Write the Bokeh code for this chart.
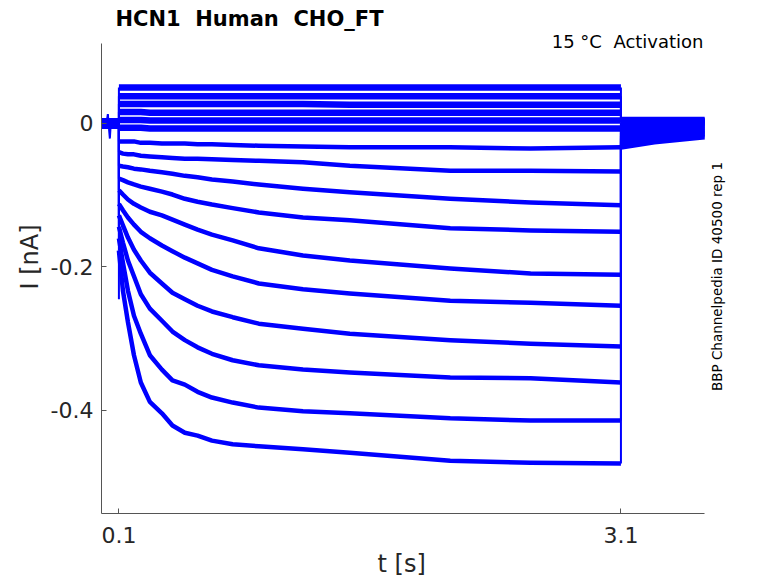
import math
from bokeh.plotting import figure
from bokeh.models import FixedTicker, Label, Title
from bokeh.embed import file_html
from bokeh.resources import INLINE

# ---- data (time in s, current in nA) ----
hold_t = [0.0, 0.1]
step_t = [0.10, 0.124, 0.154, 0.19, 0.231, 0.285, 0.357, 0.42, 0.494, 0.57, 0.656, 0.78, 0.936, 1.2, 1.48, 2.08, 2.56, 3.1]
tail_t = [3.1, 3.3, 3.6]

hold_i = [0.0, 0.0]

T1 = [0.050, 0.050, 0.050, 0.050, 0.050, 0.050, 0.050, 0.050, 0.050, 0.050, 0.050, 0.050, 0.050, 0.050, 0.050, 0.050, 0.050, 0.050]
T2 = [0.038, 0.038, 0.038, 0.038, 0.038, 0.038, 0.038, 0.038, 0.038, 0.038, 0.038, 0.038, 0.038, 0.038, 0.038, 0.038, 0.038, 0.038]
T3 = [0.027, 0.027, 0.027, 0.027, 0.027, 0.027, 0.027, 0.027, 0.027, 0.027, 0.027, 0.027, 0.027, 0.027, 0.026, 0.026, 0.026, 0.026]
T4 = [0.016, 0.016, 0.016, 0.016, 0.016, 0.015, 0.015, 0.015, 0.015, 0.015, 0.015, 0.015, 0.015, 0.015, 0.015, 0.015, 0.015, 0.015]
T5 = [0.005, 0.005, 0.005, 0.005, 0.005, 0.004, 0.004, 0.004, 0.004, 0.004, 0.004, 0.004, 0.004, 0.004, 0.004, 0.004, 0.004, 0.004]
T6 = [-0.006, -0.006, -0.006, -0.006, -0.006, -0.007, -0.007, -0.007, -0.007, -0.007, -0.007, -0.007, -0.007, -0.007, -0.007, -0.007, -0.007, -0.007]
T7 = [-0.025, -0.025, -0.025, -0.025, -0.027, -0.027, -0.028, -0.028, -0.028, -0.029, -0.029, -0.030, -0.031, -0.032, -0.033, -0.033, -0.035, -0.033]
T8 = [-0.040, -0.042, -0.043, -0.043, -0.045, -0.046, -0.047, -0.048, -0.049, -0.049, -0.050, -0.051, -0.052, -0.054, -0.059, -0.066, -0.066, -0.067]
T9 = [-0.059, -0.060, -0.061, -0.063, -0.064, -0.066, -0.068, -0.070, -0.073, -0.075, -0.078, -0.081, -0.085, -0.091, -0.096, -0.105, -0.110, -0.114]
T10 = [-0.077, -0.079, -0.082, -0.085, -0.088, -0.091, -0.095, -0.099, -0.105, -0.109, -0.113, -0.118, -0.124, -0.131, -0.135, -0.146, -0.149, -0.151]
T11 = [-0.093, -0.099, -0.106, -0.112, -0.117, -0.123, -0.128, -0.134, -0.141, -0.148, -0.155, -0.163, -0.174, -0.184, -0.191, -0.202, -0.209, -0.211]
T12 = [-0.112, -0.121, -0.131, -0.141, -0.151, -0.160, -0.170, -0.178, -0.187, -0.195, -0.204, -0.213, -0.223, -0.231, -0.237, -0.247, -0.250, -0.254]
T13 = [-0.128, -0.142, -0.159, -0.176, -0.191, -0.208, -0.223, -0.236, -0.245, -0.254, -0.262, -0.270, -0.279, -0.286, -0.293, -0.302, -0.307, -0.311]
T14 = [-0.144, -0.166, -0.191, -0.213, -0.238, -0.258, -0.275, -0.290, -0.302, -0.312, -0.321, -0.330, -0.337, -0.343, -0.347, -0.354, -0.355, -0.361]
T15 = [-0.160, -0.194, -0.233, -0.268, -0.293, -0.323, -0.343, -0.358, -0.364, -0.374, -0.382, -0.389, -0.396, -0.401, -0.404, -0.411, -0.414, -0.414]
T16 = [-0.177, -0.233, -0.277, -0.323, -0.361, -0.388, -0.404, -0.421, -0.431, -0.435, -0.442, -0.447, -0.450, -0.454, -0.459, -0.470, -0.473, -0.474]

tail_T = [
    [0.006, 0.006, 0.006], [0.005, 0.005, 0.005], [0.004, 0.004, 0.004], [0.003, 0.003, 0.003],
    [0.002, 0.002, 0.002], [0.001, 0.001, 0.001], [-0.001, -0.001, 0.000], [-0.003, -0.003, -0.002],
    [-0.006, -0.005, -0.004], [-0.009, -0.008, -0.006], [-0.013, -0.011, -0.008], [-0.017, -0.014, -0.010],
    [-0.021, -0.017, -0.012], [-0.025, -0.020, -0.014], [-0.029, -0.023, -0.016], [-0.033, -0.026, -0.019],
]

onset_peak_i = -0.245   # capacitive transient at the onset of the largest step

spike_t = [0.022, 0.028, 0.034, 0.040, 0.046, 0.052, 0.058]
spike_i = [0.000, 0.004, 0.013, -0.005, -0.021, 0.002, 0.000]

steps = [T1, T2, T3, T4, T5, T6, T7, T8, T9, T10, T11, T12, T13, T14, T15, T16]

x_ticks = [0.1, 3.1]
y_ticks = [-0.4, -0.2, 0.0]
x_tick_labels = {0.1: "0.1", 3.1: "3.1"}
y_tick_labels = {-0.4: "-0.4", -0.2: "-0.2", 0.0: "0"}

title_text = "HCN1\u00a0 Human\u00a0 CHO_FT"
cond_text = "15 °C\u00a0 Activation"
side_text = "BBP Channelpedia ID 40500 rep 1"
x_label = "t [s]"
y_label = "I [nA]"

# ---- figure ----
BLUE = "#0000ff"
AX = "#555555"
TXT = "#262626"
FONT = "DejaVu Sans"

x_lim = (-0.004, 3.6)
y_lim = (-0.5436, 0.1115)

p = figure(frame_width=659, frame_height=513, x_range=(-0.004, 3.934), y_range=(-0.5436, 0.1714),
           output_backend="svg", toolbar_location=None, title=None,
           min_border_left=101, min_border_right=0, min_border_top=0, min_border_bottom=62)
p.outline_line_color = None
p.xgrid.visible = False
p.ygrid.visible = False
p.background_fill_color = "white"
p.border_fill_color = "white"

# holding segments and artefact
p.multi_line([hold_t for _ in steps], [hold_i for _ in steps], line_color=BLUE, line_width=10)
p.line(spike_t, spike_i, line_color=BLUE, line_width=2)

# step traces
top_n = 6
p.multi_line([step_t for _ in steps[:top_n]], steps[:top_n], line_color=BLUE, line_width=6.5, line_join="round")
p.multi_line([step_t for _ in steps[top_n:]], steps[top_n:], line_color=BLUE, line_width=4.5, line_join="round")

# tails
p.multi_line([tail_t for _ in steps], tail_T, line_color=BLUE, line_width=5, line_join="round")

# transitions at step on/off
x0s = [step_t[0] for _ in steps]
y0s = [hold_i[-1] for _ in steps]
y1s = [s[0] for s in steps]
p.segment(x0s, y0s, x0s, y1s, line_color=BLUE, line_width=2)
p.segment([step_t[0]], [T16[0]], [step_t[0]], [onset_peak_i], line_color=BLUE, line_width=2)
x3s = [step_t[-1] for _ in steps]
ye = [s[-1] for s in steps]
yt = [tl[0] for tl in tail_T]
p.segment(x3s, ye, x3s, yt, line_color=BLUE, line_width=2)

# axes
for ax in (p.xaxis[0], p.yaxis[0]):
    ax.axis_line_color = AX
    ax.major_tick_line_color = AX
    ax.minor_tick_line_color = None
    ax.major_tick_in = 5
    ax.major_tick_out = 0
    ax.major_label_text_font = FONT
    ax.major_label_text_font_size = "22px"
    ax.major_label_text_color = TXT
    ax.axis_label_text_font = FONT
    ax.axis_label_text_font_size = "24px"
    ax.axis_label_text_font_style = "normal"
    ax.axis_label_text_color = TXT

p.xaxis.bounds = x_lim
p.yaxis.bounds = y_lim
p.xaxis.ticker = FixedTicker(ticks=x_ticks)
p.yaxis.ticker = FixedTicker(ticks=y_ticks)
p.xaxis.major_label_overrides = x_tick_labels
p.yaxis.major_label_overrides = y_tick_labels
p.yaxis.axis_label = y_label
p.xaxis.major_label_standoff = 13
p.yaxis.major_label_standoff = 8
p.yaxis.axis_label_standoff = 4

# x-axis label centred under the data area (not under the wider frame)
p.add_layout(Title(text=x_label, align="left", offset=276, standoff=8, vertical_align="top",
                   text_font=FONT, text_font_size="24px", text_font_style="normal",
                   text_color=TXT), "below")

p.add_layout(Label(x=14, y=495, x_units="screen", y_units="screen", text=title_text,
                   text_font=FONT, text_font_style="bold", text_font_size="21px",
                   text_color="black", text_baseline="middle", text_align="left"))
p.add_layout(Label(x=602, y=472, x_units="screen", y_units="screen", text=cond_text,
                   text_font=FONT, text_font_size="18px", text_color="black",
                   text_baseline="middle", text_align="right"))
p.add_layout(Label(x=615, y=237, x_units="screen", y_units="screen", text=side_text,
                   angle=math.pi / 2, text_font=FONT, text_font_size="13.5px", text_color="black",
                   text_baseline="middle", text_align="center"))

open("out.html", "w").write(file_html(p, INLINE))
